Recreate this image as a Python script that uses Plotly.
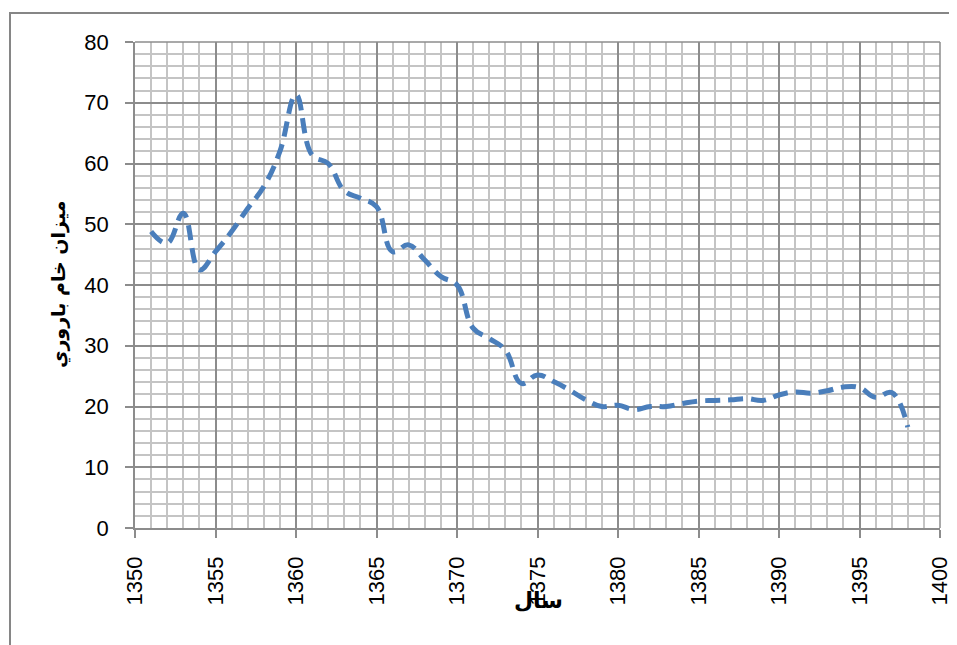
import plotly.graph_objects as go

years = list(range(1351, 1399))
values = [48.8, 46.9, 51.8, 42.5, 45.5, 48.8, 52.6, 56.2, 62.0, 71.3,
          61.4, 60.0, 55.5, 54.3, 52.9, 45.5, 46.6, 44.1, 41.4, 40.0,
          32.9, 31.2, 29.3, 23.8, 25.2, 24.1, 22.7, 21.1, 20.0, 20.2,
          19.5, 20.0, 20.0, 20.5, 20.9, 21.0, 21.1, 21.3, 21.0, 21.9,
          22.4, 22.2, 22.6, 23.2, 23.1, 21.5, 22.3, 16.6]

x_title = "سال"
y_title = "ميزان خام باروري"

tick_font = dict(family="Liberation Sans, Arial, sans-serif", size=22, color="#000000")
title_font = dict(family="DejaVu Sans, sans-serif", size=19, color="#000000")

# page body has an 8px default margin; figure sized to compensate
fig = go.Figure()
fig.add_trace(go.Scatter(
    x=years, y=values, mode="lines",
    line=dict(color="#4a7ebb", width=5, dash="15px,8px", shape="spline", smoothing=1.2),
    showlegend=False, hoverinfo="x+y"))

fig.update_layout(
    width=949, height=637, autosize=False,
    margin=dict(l=127, r=17, t=34, b=117, pad=0, autoexpand=False),
    paper_bgcolor="white", plot_bgcolor="white",
    xaxis=dict(range=[1350, 1400], dtick=5, tick0=1350, automargin=False,
               showgrid=True, gridcolor="#8c8c8c", gridwidth=1.5,
               minor=dict(dtick=1, showgrid=True, gridcolor="#c4c4c4", gridwidth=1.5,
                          ticks=""),
               ticks="outside", ticklen=8, tickcolor="#8c8c8c", tickwidth=1.5,
               showline=True, linecolor="#8c8c8c", linewidth=1.5, mirror=False,
               tickangle=-90, tickfont=tick_font, ticklabelstandoff=10,
               zeroline=False, fixedrange=True),
    yaxis=dict(range=[0, 80], dtick=10, tick0=0, automargin=False,
               showgrid=True, gridcolor="#8c8c8c", gridwidth=1.5,
               minor=dict(dtick=2, showgrid=True, gridcolor="#c4c4c4", gridwidth=1.5,
                          ticks=""),
               ticks="outside", ticklen=8, tickcolor="#8c8c8c", tickwidth=1.5,
               showline=True, linecolor="#8c8c8c", linewidth=1.5,
               tickfont=tick_font, ticklabelstandoff=12,
               zeroline=False, fixedrange=True),
    annotations=[
        dict(text="<b>" + y_title + "</b>", xref="paper", yref="paper",
             x=(59 - 135) / 805, y=0.5, textangle=-90, showarrow=False,
             font=title_font, xanchor="center", yanchor="middle"),
        dict(text="<b>" + x_title + "</b>", xref="paper", yref="paper",
             x=(538 - 135) / 805, y=(528 - 600) / 486, showarrow=False,
             font=dict(family="DejaVu Sans, sans-serif", size=22, color="#000000"),
             xanchor="center", yanchor="middle"),
    ],
    shapes=[
        dict(type="rect", xref="paper", yref="paper",
             x0=(10 - 135) / 805, x1=(960 - 135) / 805,
             y0=(528 - 660) / 486, y1=(528 - 13) / 486,
             line=dict(color="#868686", width=2), fillcolor="rgba(0,0,0,0)", layer="below"),
        dict(type="line", xref="paper", yref="paper",
             x0=1, x1=1, y0=0, y1=1,
             line=dict(color="#8c8c8c", width=1.5)),
        dict(type="line", xref="paper", yref="paper",
             x0=0, x1=1, y0=1, y1=1,
             line=dict(color="#8c8c8c", width=1.5)),
    ],
)

fig.write_html("out.html")
